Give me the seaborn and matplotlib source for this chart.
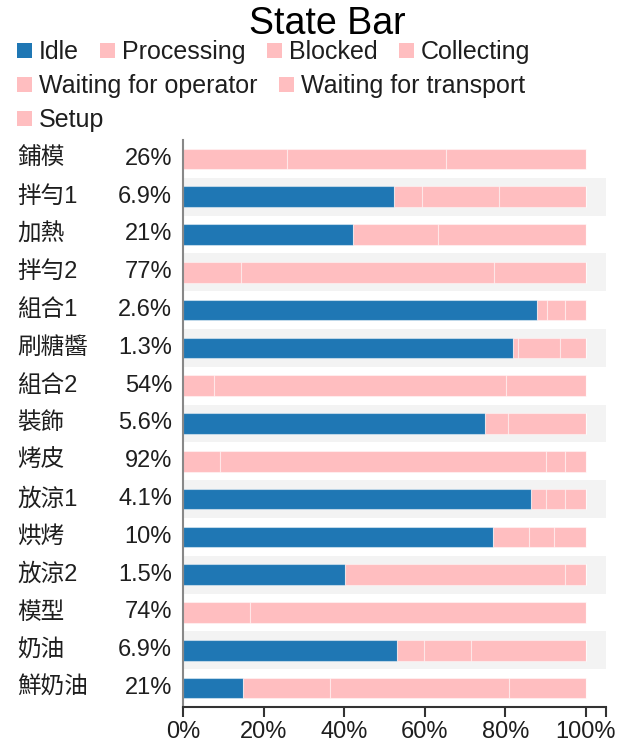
import numpy as np
import matplotlib
matplotlib.use("Agg")
import matplotlib.pyplot as plt
import matplotlib.transforms as mtransforms
from matplotlib.patches import Patch
import seaborn as sns

categories = ["鋪模", "拌勻1", "加熱", "拌勻2", "組合1", "刷糖醬", "組合2", "裝飾",
              "烤皮", "放涼1", "烘烤", "放涼2", "模型", "奶油", "鮮奶油"]
pct_labels = ["26%", "6.9%", "21%", "77%", "2.6%", "1.3%", "54%", "5.6%",
              "92%", "4.1%", "10%", "1.5%", "74%", "6.9%", "21%"]
states = ["Idle", "Processing", "Blocked", "Collecting",
          "Waiting for operator", "Waiting for transport", "Setup"]

idle = [0, 52.4, 42.2, 0, 87.9, 81.8, 0, 75.0, 0, 86.4, 76.9, 40.3, 0, 53.0, 14.9]
processing = [25.7, 6.9, 21.2, 14.4, 2.4, 1.3, 7.6, 5.6, 9.1, 3.8, 8.9, 54.6, 16.7, 6.8, 21.7]
blocked = [39.6, 19.2, 36.6, 62.7, 4.6, 10.5, 72.6, 19.4, 81.1, 4.7, 6.2, 5.1, 83.3, 11.7, 44.2]
collecting = [34.7, 21.5, 0, 22.9, 5.1, 6.4, 19.8, 0, 4.7, 5.1, 8.0, 0, 0, 28.5, 19.2]
waiting_operator = [0, 0, 0, 0, 0, 0, 0, 0, 5.1, 0, 0, 0, 0, 0, 0]
waiting_transport = [0] * 15
setup = [0] * 15

series = [idle, processing, blocked, collecting, waiting_operator, waiting_transport, setup]
state_colors = ["#1f77b4", "#ffbec0", "#ffbec0", "#ffbec0", "#ffbec0", "#ffbec0", "#ffbec0"]

x_ticks = [0, 20, 40, 60, 80, 100, 105]
x_tick_labels = ["0%", "20%", "40%", "60%", "80%", "100%", ""]

sns.set_theme(style="white")
plt.rcParams["font.family"] = ["Liberation Sans", "Noto Sans CJK TC"]
text_color = "#1e1e1e"

fig = plt.figure(figsize=(6.2, 7.43), dpi=100)
ax = fig.add_axes([183 / 620, 1 - 707 / 743, 423 / 620, 567 / 743])

n = len(categories)
for i in range(n):
    if i % 2 == 1:
        ax.axhspan(i - 0.5, i + 0.5, color="#f3f3f3", lw=0, zorder=0)

left = np.zeros(n)
for state, vals, col in zip(states, series, state_colors):
    vals = np.asarray(vals, dtype=float)
    sns.barplot(x=vals, y=categories, left=left.copy(), orient="h", color=col,
                saturation=1, width=0.55, errorbar=None,
                edgecolor=(1, 1, 1, 0.45), linewidth=0.8, zorder=2, ax=ax)
    left += vals

ax.set_xlim(0, 105)
ax.set_ylim(n - 0.5, -0.5)
ax.set_yticks([])
ax.set_xlabel("")
ax.set_ylabel("")
ax.set_xticks(x_ticks)
ax.set_xticklabels(x_tick_labels, fontsize=17, color=text_color)
ax.tick_params(axis="x", bottom=True, length=7, width=1.5, color="#333333", pad=3)
for s in ["top", "right"]:
    ax.spines[s].set_visible(False)
ax.spines["bottom"].set_color("#333333")
ax.spines["bottom"].set_linewidth(1.5)
ax.spines["left"].set_color("#888888")
ax.spines["left"].set_linewidth(1.5)

trans = mtransforms.blended_transform_factory(fig.transFigure, ax.transData)
for i, (c, p) in enumerate(zip(categories, pct_labels)):
    ax.text(17 / 620, i, c, transform=trans, ha="left", va="center",
            fontsize=17, color=text_color)
    ax.text(172 / 620, i, p, transform=trans, ha="right", va="center",
            fontsize=17, color=text_color)

fig.text(327 / 620, 1 - 34 / 743, "State Bar", ha="center", va="baseline",
         fontsize=27, color="black")

handles = [Patch(facecolor=c, edgecolor="none", label=s) for s, c in zip(states, state_colors)]
legend_rows = [handles[0:4], handles[4:6], handles[6:7]]
legend_ys = [52, 86.5, 120]
for hs, y in zip(legend_rows, legend_ys):
    fig.legend(handles=hs, loc="center left", bbox_to_anchor=(17 / 620, 1 - y / 743),
               ncol=len(hs), frameon=False, fontsize=18, handlelength=0.6,
               handleheight=0.55, handletextpad=0.28, columnspacing=0.85,
               borderpad=0, borderaxespad=0, labelcolor=text_color)

fig.savefig("out.png", dpi=100)
